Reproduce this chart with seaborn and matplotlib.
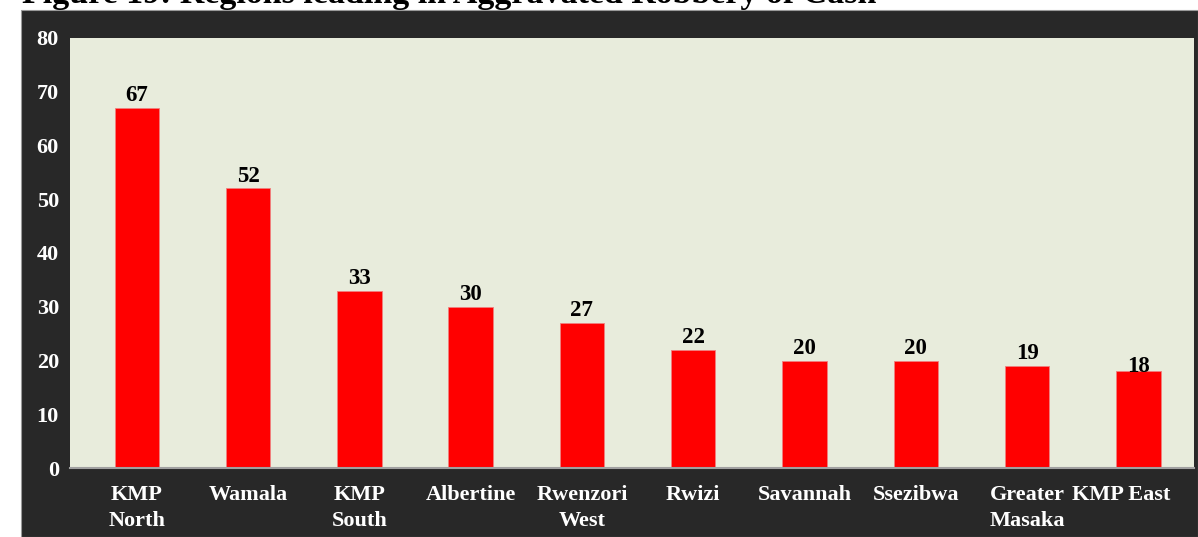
import matplotlib
matplotlib.use("Agg")
import matplotlib.pyplot as plt
import matplotlib.transforms as mtrans
import seaborn as sns
import pandas as pd
from matplotlib.patches import Rectangle

# data
regions = ["KMP\nNorth", "Wamala", "KMP\nSouth", "Albertine", "Rwenzori\nWest",
           "Rwizi", "Savannah", "Ssezibwa", "Greater\nMasaka", "KMP East"]
cases = [67, 52, 33, 30, 27, 22, 20, 20, 19, 18]
yticks = [0, 10, 20, 30, 40, 50, 60, 70, 80]

df = pd.DataFrame({"region": regions, "cases": cases})

sns.set_theme(style="white")
plt.rcParams["font.family"] = ["Liberation Serif", "DejaVu Serif"]
plt.rcParams["font.weight"] = "bold"

W, H = 1198, 537
fig = plt.figure(figsize=(W / 100, H / 100), dpi=100)
fig.patch.set_facecolor("white")

# dark panel behind the chart
panel = Rectangle((21 / W, 0), 1 - 21 / W, 1 - 10 / H, transform=fig.transFigure,
                  facecolor="#282828", edgecolor="#9a9a9a", linewidth=0.8, zorder=-5)
fig.add_artist(panel)

# cut-off title at the top
fig.text(22 / W, 1 - 3 / H, "Figure 19: Regions leading in Aggravated Robbery of Cash",
         fontsize=24.5, fontweight="bold", color="black", va="baseline", ha="left")

ax = fig.add_axes([70 / W, (H - 468) / H, (1194 - 70) / W, (468 - 38) / H])
ax.set_zorder(2)
ax.set_facecolor("#e8ecdc")

sns.barplot(data=df, x="region", y="cases", color="#ff0000", width=0.4,
            edgecolor="#f08080", linewidth=0.6, saturation=1, ax=ax)

for i, v in enumerate(cases):
    off = 1 if v != 18 else -4
    ax.annotate(str(v), (i, v), xytext=(0, off), textcoords="offset points",
                ha="center", va="bottom", fontsize=16.5, fontweight="bold", color="black")

ax.set_ylim(0, 80)
ax.set_xlim(-0.6, 9.5)
ax.set_yticks(yticks)
ax.set_xlabel("")
ax.set_ylabel("")
ax.tick_params(axis="both", length=0, colors="white", labelsize=16)
ax.tick_params(axis="x", pad=12)
ax.tick_params(axis="y", pad=8)
for lab in ax.get_xticklabels() + ax.get_yticklabels():
    lab.set_fontweight("bold")
for lab in ax.get_xticklabels():
    lab.set_linespacing(1.45)

# last label sits a bit left of its bar in the reference
last = ax.get_xticklabels()[-1]
last.set_transform(last.get_transform() + mtrans.ScaledTranslation(-0.17, 0, fig.dpi_scale_trans))

for s in ["top", "right", "left"]:
    ax.spines[s].set_visible(False)
ax.spines["bottom"].set_color("#a0a0a0")
ax.spines["bottom"].set_linewidth(1.5)

fig.savefig("out.png", dpi=100)
